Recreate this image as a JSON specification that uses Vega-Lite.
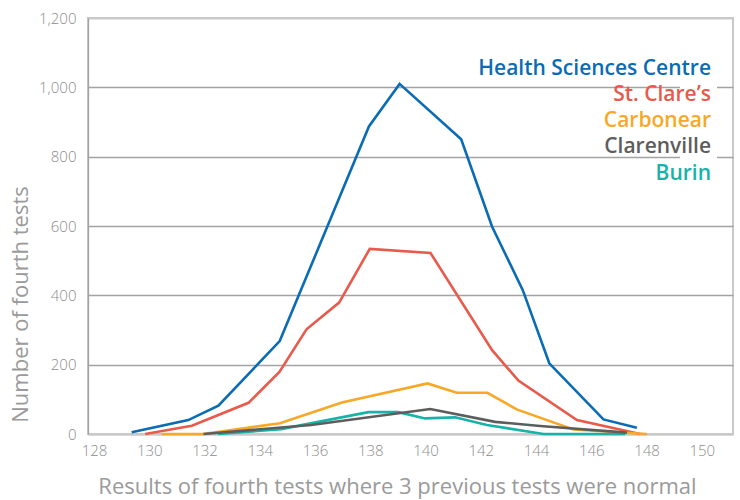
{
  "$schema": "https://vega.github.io/schema/vega-lite/v6.json",
  "width": 645,
  "height": 416,
  "autosize": "none",
  "padding": {"left": 88, "top": 18, "right": 7, "bottom": 66},
  "background": "white",
  "config": {
    "view": {"stroke": "#c9c9c9", "strokeWidth": 2},
    "font": "Open Sans"
  },
  "data": {
    "values": [
      {"x": 129.36, "y": 5, "series": "Health Sciences Centre"},
      {"x": 131.41, "y": 40, "series": "Health Sciences Centre"},
      {"x": 132.50, "y": 82, "series": "Health Sciences Centre"},
      {"x": 134.72, "y": 268, "series": "Health Sciences Centre"},
      {"x": 137.95, "y": 887, "series": "Health Sciences Centre"},
      {"x": 139.06, "y": 1010, "series": "Health Sciences Centre"},
      {"x": 141.29, "y": 850, "series": "Health Sciences Centre"},
      {"x": 142.41, "y": 598, "series": "Health Sciences Centre"},
      {"x": 143.52, "y": 415, "series": "Health Sciences Centre"},
      {"x": 144.48, "y": 204, "series": "Health Sciences Centre"},
      {"x": 146.44, "y": 42, "series": "Health Sciences Centre"},
      {"x": 147.65, "y": 18, "series": "Health Sciences Centre"},

      {"x": 129.85, "y": 0, "series": "St. Clare’s"},
      {"x": 131.54, "y": 24, "series": "St. Clare’s"},
      {"x": 133.59, "y": 90, "series": "St. Clare’s"},
      {"x": 134.71, "y": 179, "series": "St. Clare’s"},
      {"x": 135.69, "y": 302, "series": "St. Clare’s"},
      {"x": 136.87, "y": 379, "series": "St. Clare’s"},
      {"x": 137.98, "y": 534, "series": "St. Clare’s"},
      {"x": 140.18, "y": 522, "series": "St. Clare’s"},
      {"x": 142.41, "y": 242, "series": "St. Clare’s"},
      {"x": 143.36, "y": 154, "series": "St. Clare’s"},
      {"x": 145.48, "y": 40, "series": "St. Clare’s"},
      {"x": 147.77, "y": 0, "series": "St. Clare’s"},

      {"x": 130.45, "y": 0, "series": "Carbonear"},
      {"x": 131.95, "y": 0, "series": "Carbonear"},
      {"x": 134.73, "y": 31, "series": "Carbonear"},
      {"x": 136.97, "y": 91, "series": "Carbonear"},
      {"x": 140.07, "y": 146, "series": "Carbonear"},
      {"x": 141.13, "y": 119, "series": "Carbonear"},
      {"x": 142.24, "y": 119, "series": "Carbonear"},
      {"x": 143.30, "y": 71, "series": "Carbonear"},
      {"x": 145.35, "y": 13, "series": "Carbonear"},
      {"x": 148.01, "y": 0, "series": "Carbonear"},

      {"x": 132.49, "y": 0, "series": "Burin"},
      {"x": 134.77, "y": 14, "series": "Burin"},
      {"x": 137.93, "y": 63, "series": "Burin"},
      {"x": 139.02, "y": 63, "series": "Burin"},
      {"x": 139.98, "y": 45, "series": "Burin"},
      {"x": 141.07, "y": 48, "series": "Burin"},
      {"x": 142.22, "y": 26, "series": "Burin"},
      {"x": 144.27, "y": 0, "series": "Burin"},
      {"x": 147.23, "y": 0, "series": "Burin"},

      {"x": 131.96, "y": 0, "series": "Clarenville"},
      {"x": 135.86, "y": 26, "series": "Clarenville"},
      {"x": 140.17, "y": 72, "series": "Clarenville"},
      {"x": 142.52, "y": 35, "series": "Clarenville"},
      {"x": 144.15, "y": 23, "series": "Clarenville"},
      {"x": 147.29, "y": 4, "series": "Clarenville"}
    ]
  },
  "mark": {"type": "line", "strokeWidth": 2.6, "interpolate": "linear"},
  "encoding": {
    "x": {
      "field": "x",
      "type": "quantitative",
      "scale": {"domain": [127.78, 151.13], "nice": false, "zero": false},
      "axis": {
        "title": "Results of fourth tests where 3 previous tests were normal",
        "values": [128, 130, 132, 134, 136, 138, 140, 142, 144, 146, 148, 150],
        "grid": false,
        "ticks": false,
        "domainColor": "#c9c9c9",
        "domainWidth": 2,
        "labelColor": "#8c8c8c",
        "labelFontSize": 15,
        "labelFontWeight": 300,
        "labelPadding": 9,
        "titleColor": "#9a9a9a",
        "titleFontSize": 22,
        "titleFontWeight": 500,
        "titlePadding": 18,
        "titleX": 309
      }
    },
    "y": {
      "field": "y",
      "type": "quantitative",
      "scale": {"domain": [0, 1200], "nice": false},
      "axis": {
        "title": "Number of fourth tests",
        "values": [0, 200, 400, 600, 800, 1000, 1200],
        "format": ",.0f",
        "ticks": false,
        "grid": true,
        "gridColor": {"condition": {"test": "datum.value == 0 || datum.value == 1200", "value": "#c9c9c9"}, "value": "#a3a3a3"},
        "gridWidth": {"condition": {"test": "datum.value == 0 || datum.value == 1200", "value": 2}, "value": 1.3},
        "domainColor": "#a3a3a3",
        "domainWidth": 1.3,
        "labelColor": "#8c8c8c",
        "labelFontSize": 15,
        "labelFontWeight": 300,
        "labelPadding": 12,
        "titleColor": "#9a9a9a",
        "titleFontSize": 22,
        "titleFontWeight": 500,
        "titlePadding": 6,
        "titleY": 286
      }
    },
    "color": {
      "field": "series",
      "type": "nominal",
      "scale": {
        "domain": ["Health Sciences Centre", "St. Clare’s", "Carbonear", "Clarenville", "Burin"],
        "range": ["#0a6cb4", "#e85a4b", "#f8a827", "#5d5d5d", "#17b3a9"]
      },
      "legend": {
        "title": null,
        "orient": "none",
        "legendX": 592,
        "legendY": 34,
        "symbolOpacity": 0,
        "symbolSize": 0,
        "symbolStrokeWidth": 0,
        "labelAlign": "right",
        "labelFontSize": 21,
        "labelFontWeight": 600,
        "labelLimit": 400,
        "rowPadding": 4.3,
        "fillColor": "white",
        "padding": 6,
        "encode": {"labels": {"update": {"fill": {"scale": "color", "field": "value"}}}}
      }
    }
  }
}
